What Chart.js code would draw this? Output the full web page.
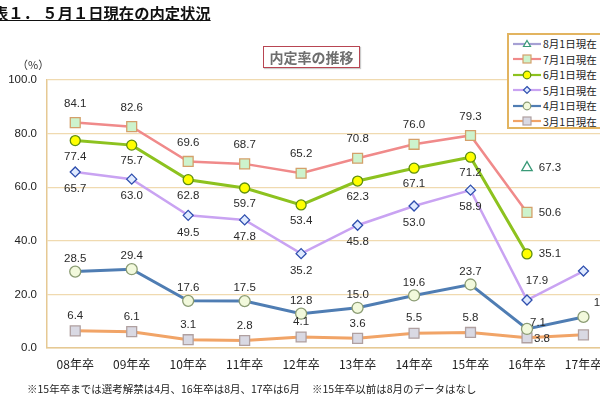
<!DOCTYPE html>
<html lang="ja">
<head>
<meta charset="utf-8">
<title>表１．５月１日現在の内定状況</title>
<script src="https://cdn.jsdelivr.net/npm/chart.js@4.4.1/dist/chart.umd.min.js"></script>
<style>
  html, body { margin: 0; padding: 0; background: #fff; overflow: hidden; }
  #wrap {
    position: relative; width: 600px; height: 397px; overflow: hidden;
    font-family: "Noto Sans CJK JP", "Noto Sans", sans-serif; color: #222;
  }
  #chart { position: absolute; left: 0; top: 0; }
  #pageTitle {
    position: absolute; left: -7px; top: 2px; font-size: 15.3px; font-weight: bold;
    text-decoration: underline; white-space: nowrap; line-height: 20px; color: #111;
  }
  #unit { position: absolute; left: 17px; top: 56px; font-size: 11px; color: #333; }
  #chartTitle {
    position: absolute; left: 263px; top: 46px; width: 95px; height: 20px;
    border: 1.5px solid #b84552; background: #fff; box-shadow: 1px 1px 1px #ccc;
    font-size: 14px; font-weight: bold; color: #6e6e6e; text-align: center; line-height: 20px;
  }
  #legend {
    position: absolute; left: 507px; top: 33px; width: 120px; height: 91px;
    border: 2px solid #e2b460; background: #fff; padding-top: 1px;
  }
  #legend .item { height: 15.5px; display: flex; align-items: center; font-size: 10.5px; white-space: nowrap; }
  #legend svg { margin-left: 4px; margin-right: 2px; }
  .note { position: absolute; top: 381px; font-size: 10.5px; white-space: nowrap; color: #222; }
</style>
</head>
<body>
<div id="wrap">
  <canvas id="chart" width="620" height="397"></canvas>
  <div id="pageTitle">表１． ５月１日現在の内定状況</div>
  <div id="unit">（%）</div>
  <div id="chartTitle">内定率の推移</div>
  <div id="legend"></div>
  <div class="note" style="left:27px">※15年卒までは選考解禁は4月、16年卒は8月、17卒は6月</div>
  <div class="note" style="left:312px">※15年卒以前は8月のデータはなし</div>
</div>
<script>
// categories and series (内定率, %)
const years = ['08年卒', '09年卒', '10年卒', '11年卒', '12年卒', '13年卒', '14年卒', '15年卒', '16年卒', '17年卒'];
const aug1 = [null, null, null, null, null, null, null, null, 67.3, null];
const jul1 = [84.1, 82.6, 69.6, 68.7, 65.2, 70.8, 76.0, 79.3, 50.6, null];
const jun1 = [77.4, 75.7, 62.8, 59.7, 53.4, 62.3, 67.1, 71.2, 35.1, null];
const may1 = [65.7, 63.0, 49.5, 47.8, 35.2, 45.8, 53.0, 58.9, 17.9, 28.7];
const apr1 = [28.5, 29.4, 17.6, 17.5, 12.8, 15.0, 19.6, 23.7, 7.1, 11.6];
const mar1 = [6.4, 6.1, 3.1, 2.8, 4.1, 3.6, 5.5, 5.8, 3.8, 4.9];
const yTicks = [0, 20, 40, 60, 80, 100];

const numFont = '"Liberation Sans", Arial, sans-serif';

// --- series styling (label offsets: default + special points) ---
const datasets = [
  {
    label: '8月1日現在', data: aug1, borderColor: '#a6a0d4', borderWidth: 2.5,
    pointStyle: 'triangle', pointRadius: 6, pointBackgroundColor: '#fff', pointBorderColor: '#3a9a78', pointBorderWidth: 1.3,
    labelAt: { def: [23, 0] }
  },
  {
    label: '7月1日現在', data: jul1, borderColor: '#f08a8a', borderWidth: 2.5,
    pointStyle: 'rect', pointRadius: 7, pointBackgroundColor: '#cdf3cd', pointBorderColor: '#d4a06a', pointBorderWidth: 1.3,
    labelAt: { def: [0, -19], 8: [23, 0] }
  },
  {
    label: '6月1日現在', data: jun1, borderColor: '#8dc21f', borderWidth: 3,
    pointStyle: 'circle', pointRadius: 5, pointBackgroundColor: '#ffff00', pointBorderColor: '#5e8e10', pointBorderWidth: 1.3,
    labelAt: { def: [0, 16], 8: [23, 0] }
  },
  {
    label: '5月1日現在', data: may1, borderColor: '#c9a3f2', borderWidth: 2.5,
    pointStyle: 'rectRot', pointRadius: 5, pointBackgroundColor: '#dfeaff', pointBorderColor: '#2f4fae', pointBorderWidth: 1.3,
    labelAt: { def: [0, 17], 8: [10, -19], 9: [34, 0] }
  },
  {
    label: '4月1日現在', data: apr1, borderColor: '#4f7db3', borderWidth: 3,
    pointStyle: 'circle', pointRadius: 5.5, pointBackgroundColor: '#f2f9dc', pointBorderColor: '#8b9c74', pointBorderWidth: 1.3,
    labelAt: { def: [0, -13], 8: [11, -6], 9: [21, -14] }
  },
  {
    label: '3月1日現在', data: mar1, borderColor: '#f1a467', borderWidth: 3,
    pointStyle: 'rect', pointRadius: 7, pointBackgroundColor: '#d9d9e3', pointBorderColor: '#b0a0a0', pointBorderWidth: 1.3,
    labelAt: { def: [0, -15], 8: [15, 1], 9: [34, 0] }
  }
];
datasets.forEach(d => { d.fill = false; d.tension = 0; d.spanGaps = false; });

// draws the value next to each point
const valueLabels = {
  id: 'valueLabels',
  afterDatasetsDraw(chart) {
    const ctx = chart.ctx;
    ctx.save();
    ctx.font = '11.5px ' + numFont;
    ctx.fillStyle = '#2a2a2a';
    ctx.textAlign = 'center';
    ctx.textBaseline = 'middle';
    chart.data.datasets.forEach((ds, i) => {
      const meta = chart.getDatasetMeta(i);
      meta.data.forEach((pt, j) => {
        const v = ds.data[j];
        if (v === null || v === undefined) return;
        const off = ds.labelAt[j] || ds.labelAt.def;
        ctx.fillText(v.toFixed(1), pt.x + off[0], pt.y + off[1]);
      });
    });
    ctx.restore();
  }
};

new Chart(document.getElementById('chart'), {
  type: 'line',
  data: { labels: years, datasets: datasets },
  options: {
    responsive: false,
    animation: false,
    layout: { padding: { top: 80, right: 3, left: 0, bottom: 0 } },
    plugins: { legend: { display: false }, tooltip: { enabled: false } },
    scales: {
      x: {
        offset: true,
        grid: { display: false, drawTicks: false },
        border: { color: '#e6c994', width: 1.5 },
        ticks: { color: '#222', padding: 9, maxRotation: 0, autoSkip: false,
                 font: { size: 12, family: '"Noto Sans CJK JP", sans-serif' } },
        afterFit(s) { s.height = 49; }
      },
      y: {
        min: 0, max: 100,
        afterBuildTicks(s) { s.ticks = yTicks.map(v => ({ value: v })); },
        grid: { color: '#f0dab0', lineWidth: 1.2, drawTicks: false },
        border: { color: '#e6c994', width: 1.5 },
        ticks: { color: '#222', padding: 10, font: { size: 11.5, family: numFont },
                 callback: v => Number(v).toFixed(1) },
        afterFit(s) { s.width = 47; }
      }
    }
  },
  plugins: [valueLabels]
});

// --- HTML legend (line sample + marker) ---
function markerSvg(ds) {
  const cx = 14, cy = 5;
  const f = ds.pointBackgroundColor, s = ds.pointBorderColor;
  if (ds.pointStyle === 'triangle') return `<polygon points="${cx},${cy - 3.5} ${cx + 3.5},${cy + 2.5} ${cx - 3.5},${cy + 2.5}" fill="${f}" stroke="${s}" stroke-width="1.2"/>`;
  if (ds.pointStyle === 'rect') return `<rect x="${cx - 4}" y="${cy - 4}" width="8" height="8" fill="${f}" stroke="${s}" stroke-width="1.2"/>`;
  if (ds.pointStyle === 'rectRot') return `<polygon points="${cx},${cy - 3.5} ${cx + 3.5},${cy} ${cx},${cy + 3.5} ${cx - 3.5},${cy}" fill="${f}" stroke="${s}" stroke-width="1.2"/>`;
  return `<circle cx="${cx}" cy="${cy}" r="3.8" fill="${f}" stroke="${s}" stroke-width="1.2"/>`;
}
const legendEl = document.getElementById('legend');
datasets.forEach(ds => {
  const item = document.createElement('div');
  item.className = 'item';
  item.innerHTML = `<svg width="28" height="10"><line x1="0" y1="5" x2="28" y2="5" stroke="${ds.borderColor}" stroke-width="2.2"/>${markerSvg(ds)}</svg><span>${ds.label}</span>`;
  legendEl.appendChild(item);
});
</script>
</body>
</html>
